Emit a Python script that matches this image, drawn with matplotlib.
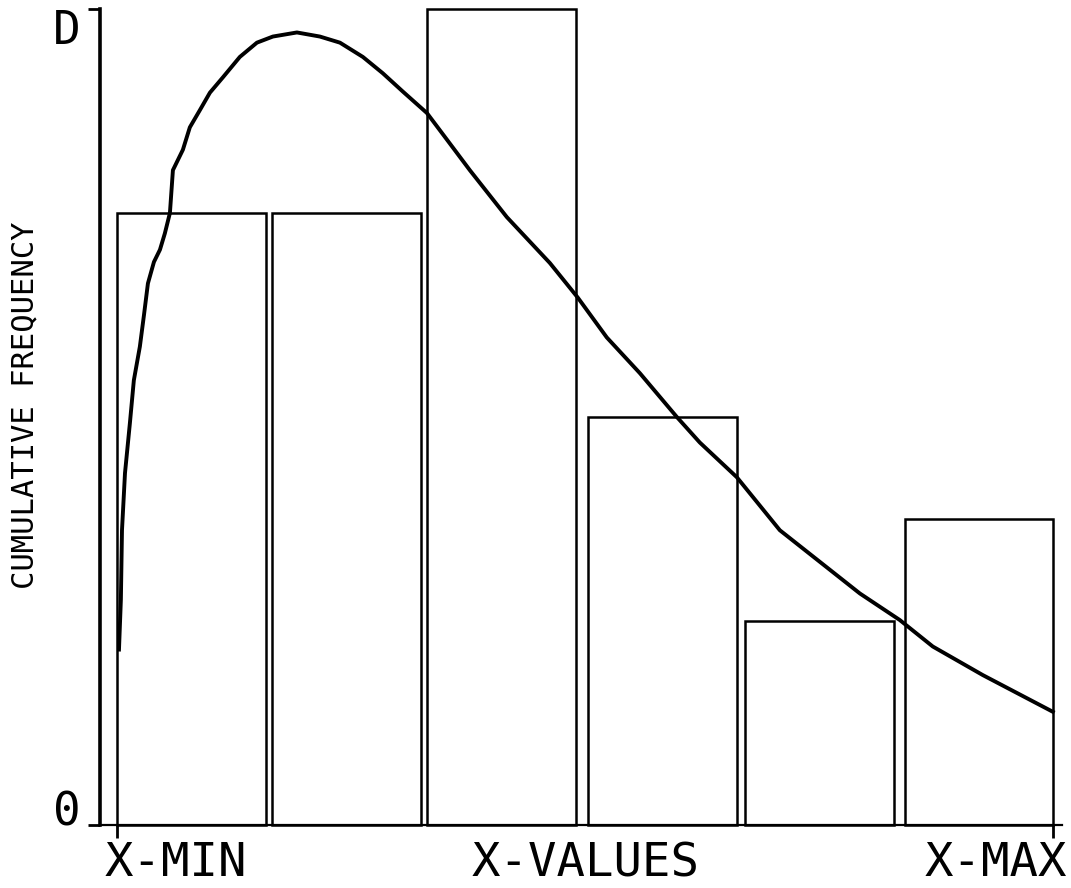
import matplotlib
matplotlib.use("Agg")
import matplotlib.pyplot as plt
import matplotlib.transforms as mtransforms

# histogram counts per class, classes run from X-MIN to X-MAX
bin_counts = [6, 6, 8, 4, 2, 3]
bin_left = [0, 0.98, 1.96, 2.98, 3.97, 4.98]
bar_width = 0.94

# fitted density curve, scaled to the count axis
curve_x = [0.013, 0.025, 0.032, 0.051, 0.082, 0.107, 0.145, 0.171, 0.196, 0.234,
           0.272, 0.303, 0.335, 0.354, 0.417, 0.461, 0.525, 0.588, 0.670, 0.777,
           0.885, 0.986, 1.138, 1.283, 1.410, 1.555, 1.681, 1.808, 1.960, 2.086,
           2.231, 2.465, 2.737, 2.914, 3.097, 3.306, 3.540, 3.685, 3.919, 4.191,
           4.444, 4.697, 4.949, 5.158, 5.474, 5.917]
curve_y = [1.72, 2.21, 2.89, 3.45, 3.94, 4.36, 4.69, 5.00, 5.31, 5.52,
           5.64, 5.80, 6.00, 6.42, 6.62, 6.84, 7.01, 7.18, 7.33, 7.53,
           7.67, 7.73, 7.77, 7.73, 7.67, 7.53, 7.37, 7.19, 6.98, 6.72,
           6.42, 5.96, 5.51, 5.17, 4.78, 4.43, 4.00, 3.75, 3.41, 2.89,
           2.58, 2.27, 2.01, 1.75, 1.47, 1.11]

y_ticks = [0, 8]
y_tick_labels = ["0", "D"]
x_min_label = "X-MIN"
x_mid_label = "X-VALUES"
x_max_label = "X-MAX"
y_axis_label = "CUMULATIVE FREQUENCY"

font = "DejaVu Sans Mono"

fig = plt.figure(figsize=(10.71, 8.88), dpi=100)
ax = fig.add_axes([100 / 1071, 63 / 888, 962 / 1071, 816 / 888])

ax.bar(bin_left, bin_counts, width=bar_width, align="edge", fill=False,
       edgecolor="black", linewidth=1.8, clip_on=False)
ax.plot(curve_x, curve_y, color="black", linewidth=2.8, clip_on=False)

x_lo = bin_left[0]
x_hi = bin_left[-1] + bar_width
ax.set_xlim(-0.107, 5.975)
ax.set_ylim(0, 8)

for side in ["top", "right"]:
    ax.spines[side].set_visible(False)
ax.spines["left"].set_linewidth(2.6)
ax.spines["bottom"].set_linewidth(1.6)

ax.set_yticks(y_ticks)
ax.set_yticklabels(y_tick_labels, fontfamily=font, fontsize=33)
ax.tick_params(axis="y", direction="out", length=9, width=2, pad=5)
labels = ax.get_yticklabels()
labels[0].set_va("baseline")
labels[1].set_va("top")

ax.set_xticks([x_lo, x_hi])
ax.set_xticklabels(["", ""])
ax.tick_params(axis="x", direction="out", length=9, width=2)

# x labels sit on one line under the axis
def x_text(x, text, ha, dx):
    trans = mtransforms.offset_copy(ax.get_xaxis_transform(), fig=fig,
                                    x=dx, y=-16, units="dots")
    ax.text(x, 0, text, transform=trans, ha=ha, va="top",
            fontfamily=font, fontsize=34, clip_on=False)

x_text(x_lo, x_min_label, "left", -12)
x_text((x_lo + x_hi) / 2, x_mid_label, "center", 0)
x_text(x_hi, x_max_label, "right", 14)

fig.text(25 / 1071, 1 - 405 / 888, y_axis_label, rotation=90, ha="center",
         va="center", fontfamily=font, fontsize=22)

fig.savefig("out.png", dpi=100, facecolor="white")
